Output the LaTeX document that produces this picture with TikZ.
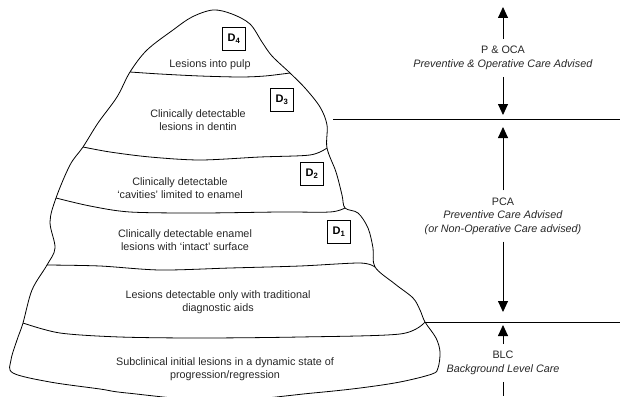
\documentclass[tikz,border=0pt]{standalone}
\usepackage{fontspec}
\setmainfont{Liberation Sans}
\usepackage{tikz}
\usetikzlibrary{arrows.meta,positioning}

\begin{document}
\begin{tikzpicture}[>={Triangle[length=11pt,width=10pt]}, x=1pt, y=-1pt,
  font=\fontsize{10.8}{13.5}\selectfont,
  layer/.style={align=center, text=black!85},
  dbox/.style={draw, line width=0.9pt, minimum size=23pt, inner sep=0pt, font=\fontsize{11}{12}\selectfont\bfseries},
  care/.style={align=center, inner sep=7pt, text=black!85}]
\useasboundingbox (0,0) rectangle (620,396);
% the outline of the iceberg
\draw[line width=0.8pt] plot[smooth cycle, tension=0.55] coordinates {
  (213,10) (232,14) (250,24) (262,42) (272,56) (290,73)
  (305,88) (320,107) (327,125) (327,148)
  (336,172) (342,195) (345,208)
  (358,213) (368,228) (373,248) (375,267)
  (395,284) (413,298) (420,310) (425,322)
  (436,338) (440,352) (438,368) (432,374) (400,382) (360,388) (313,393) (220,401) (127,393) (100,389) (50,382) (13,373) (11,360) (17,340) (23,323)
  (32,290) (47,265)
  (55,248) (50,222) (56,198)
  (70,165) (83,147)
  (98,123) (117,97) (130,72)
  (147,50) (173,30) (192,17)};
% the bands
\draw[line width=0.8pt] plot[smooth] coordinates {(130,72) (160,74) (200,76) (240,77) (265,76) (290,73)};
\draw[line width=0.8pt] plot[smooth] coordinates {(83,147) (110,152) (150,157) (200,160) (260,157) (310,155) (327,148)};
\draw[line width=0.8pt] plot[smooth] coordinates {(56,198) (90,206) (130,212) (200,213) (280,212) (330,212) (345,208)};
\draw[line width=0.8pt] plot[smooth] coordinates {(47,265) (100,266) (160,270) (230,268) (300,266) (360,263) (375,267)};
\draw[line width=0.8pt] plot[smooth] coordinates {(23,323) (60,333) (120,337) (200,338) (300,337) (400,334) (425,322)};
% what each band holds
\node[layer] (pulp) at (210,65) {Lesions into pulp};
\node[layer] (dentin) at (198,120) {Clinically detectable\\lesions in dentin};
\node[layer] (cavity) at (180,188) {Clinically detectable\\`cavities' limited to enamel};
\node[layer] (enamel) at (185,240) {Clinically detectable enamel\\lesions with `intact' surface};
\node[layer] (aids) at (218,302) {Lesions detectable only with traditional\\diagnostic aids};
\node[layer] (subclin) at (225,369) {Subclinical initial lesions in a dynamic state of\\progression/regression};
\foreach \n/\x/\y in {4/234/39, 3/282/100, 2/312/174, 1/339/232}
  {\node[dbox] (d\n) at (\x,\y) {D\textsubscript{\n}};}
% right: the care thresholds
\coordinate (cut1) at (333,119);
\coordinate (cut2) at (425,322);
\draw[line width=0.9pt] (cut1) -- (620,119);
\draw[line width=0.9pt] (cut2) -- (620,322);
\node[care] (poca) at (503,58) {P \& OCA\\\textit{Preventive \& Operative Care Advised}};
\node[care] (pca) at (503,216) {PCA\\\textit{Preventive Care Advised}\\\textit{(or Non-Operative Care advised)}};
\node[care] (blc) at (503,363) {BLC\\\textit{Background Level Care}};
\coordinate (top) at (503,7);
\coordinate (t1) at (503,115);
\coordinate (t2) at (503,127);
\coordinate (t3) at (503,312);
\coordinate (t4) at (503,325);
\coordinate (bot) at (503,396);
\draw[->, line width=0.9pt] (poca) -- (top);
\draw[->, line width=0.9pt] (poca) -- (t1);
\draw[->, line width=0.9pt] (pca) -- (t2);
\draw[->, line width=0.9pt] (pca) -- (t3);
\draw[->, line width=0.9pt] (blc) -- (t4);
\draw[line width=0.9pt] (blc) -- (bot);
\end{tikzpicture}
\end{document}
